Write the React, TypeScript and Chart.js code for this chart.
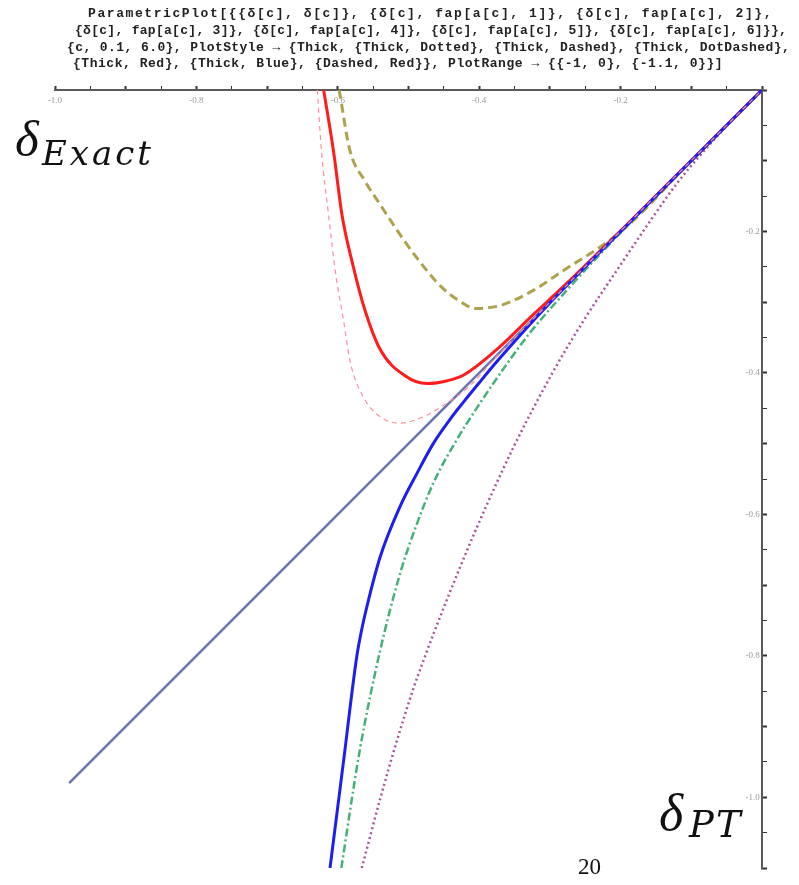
import React, { useEffect, useRef } from "react";
import { Chart, registerables } from "chart.js";
Chart.register(...registerables);

// ---- data (δ_PT on x, δ_Exact / fap on y) ----
const exactX = [-0.98, 0];
const exactY = [-0.98, 0];

const fap1X = [-0.566, -0.54, -0.517, -0.494, -0.479, -0.451, -0.418, -0.389, -0.352, -0.297, -0.253, -0.206, -0.158, -0.121, -0.088, -0.05, 0];
const fap1Y = [-1.1, -1.002, -0.922, -0.849, -0.807, -0.734, -0.653, -0.586, -0.506, -0.401, -0.327, -0.256, -0.185, -0.133, -0.093, -0.051, 0];

const fap2X = [-0.598, -0.583, -0.562, -0.54, -0.515, -0.49, -0.455, -0.43, -0.404, -0.371, -0.35, -0.323, -0.276, -0.229, -0.191, -0.1, 0];
const fap2Y = [0, -0.085, -0.128, -0.162, -0.2, -0.235, -0.277, -0.297, -0.309, -0.305, -0.297, -0.283, -0.252, -0.222, -0.193, -0.1, 0];

const fap3X = [-0.595, -0.569, -0.54, -0.512, -0.488, -0.465, -0.432, -0.399, -0.362, -0.328, -0.276, -0.23, -0.1, 0];
const fap3Y = [-1.1, -0.934, -0.792, -0.684, -0.613, -0.556, -0.495, -0.443, -0.389, -0.343, -0.283, -0.233, -0.1, 0];

const fap4X = [-0.62, -0.606, -0.594, -0.578, -0.562, -0.54, -0.505, -0.474, -0.445, -0.422, -0.373, -0.324, -0.28, -0.2, 0];
const fap4Y = [0, -0.087, -0.177, -0.25, -0.31, -0.367, -0.404, -0.415, -0.411, -0.403, -0.365, -0.318, -0.277, -0.199, 0];

const fap5X = [-0.611, -0.592, -0.573, -0.566, -0.559, -0.54, -0.512, -0.488, -0.465, -0.44, -0.422, -0.4, -0.375, -0.338, -0.3, -0.2, 0];
const fap5Y = [-1.1, -0.95, -0.8, -0.762, -0.731, -0.66, -0.589, -0.542, -0.5, -0.464, -0.441, -0.414, -0.384, -0.342, -0.301, -0.2, 0];

const fap6X = [-0.629, -0.623, -0.613, -0.603, -0.592, -0.583, -0.564, -0.54, -0.512, -0.479, -0.446, -0.413, -0.38, -0.3, 0];
const fap6Y = [0, -0.087, -0.177, -0.26, -0.325, -0.382, -0.434, -0.462, -0.471, -0.462, -0.443, -0.418, -0.382, -0.3, 0];

const xTickLabels = ["-1.0", "-0.8", "-0.6", "-0.4", "-0.2"];
const yTickLabels = ["-0.2", "-0.4", "-0.6", "-0.8", "-1.0"];

const titleLines = [
  "ParametricPlot[{{δ[c], δ[c]}, {δ[c], fap[a[c], 1]}, {δ[c], fap[a[c], 2]},",
  "{δ[c], fap[a[c], 3]}, {δ[c], fap[a[c], 4]}, {δ[c], fap[a[c], 5]}, {δ[c], fap[a[c], 6]}},",
  "{c, 0.1, 6.0}, PlotStyle → {Thick, {Thick, Dotted}, {Thick, Dashed}, {Thick, DotDashed},",
  "{Thick, Red}, {Thick, Blue}, {Dashed, Red}}, PlotRange → {{-1, 0}, {-1.1, 0}}]",
];
const titleLeft = [88, 75, 67, 73];
const titleWidth = [685, 712, 723, 650];
const titleTop = [6, 23, 40, 56];

const pts = (xs: number[], ys: number[]) => xs.map((x, i) => ({ x, y: ys[i] }));

function labelFor(v: number, labels: string[], suffix: string) {
  const r = Math.round(v * 100);
  if (r % 20 !== 0 || r === 0) return "";
  const s = (r / 100).toFixed(1);
  return labels.includes(s) ? s + suffix : "";
}

const tickW = (ctx: any) => (Math.round(ctx.tick.value * 100) % 10 === 0 ? 2 : 1);

export default function App() {
  const ref = useRef<HTMLCanvasElement>(null);
  useEffect(() => {
    const base = { showLine: true, pointRadius: 0, cubicInterpolationMode: "monotone" as const, fill: false };
    const chart = new Chart(ref.current!, {
      type: "scatter",
      data: {
        datasets: [
          { ...base, label: "δ", data: pts(exactX, exactY), borderColor: "#6b74b0", borderWidth: 2.5, order: 7 },
          { ...base, label: "fap1", data: pts(fap1X, fap1Y), borderColor: "#a3589a", borderWidth: 2.5, borderDash: [2, 3], order: 6 },
          { ...base, label: "fap2", data: pts(fap2X, fap2Y), borderColor: "#ada34c", borderWidth: 3, borderDash: [9, 5], order: 5 },
          { ...base, label: "fap3", data: pts(fap3X, fap3Y), borderColor: "#45b078", borderWidth: 2.5, borderDash: [8, 3, 2, 3], order: 4 },
          { ...base, label: "fap4", data: pts(fap4X, fap4Y), borderColor: "#ff1c1c", borderWidth: 3, order: 3 },
          { ...base, label: "fap5", data: pts(fap5X, fap5Y), borderColor: "#1e1ef0", borderWidth: 3, order: 2 },
          { ...base, label: "fap6", data: pts(fap6X, fap6Y), borderColor: "#ff8f9c", borderWidth: 1.2, borderDash: [5, 4], order: 1 },
        ],
      },
      options: {
        animation: false,
        responsive: false,
        layout: { padding: { left: 55, right: 37, top: 90, bottom: 17 } },
        plugins: { legend: { display: false }, tooltip: { enabled: false }, title: { display: false } },
        scales: {
          x: {
            type: "linear",
            min: -1,
            max: 0,
            position: { y: 0 } as any,
            border: { display: true, color: "#5a5a5a", width: 2 },
            grid: {
              drawOnChartArea: false,
              drawTicks: true,
              tickLength: -5,
              tickColor: "#333",
              tickWidth: tickW,
            },
            ticks: {
              stepSize: 0.05,
              autoSkip: false,
              maxRotation: 0,
              padding: 10,
              color: "#999",
              font: { family: "Liberation Serif", size: 9 },
              callback: (v: any) => labelFor(Number(v), xTickLabels, ""),
            },
          },
          y: {
            type: "linear",
            min: -1.1,
            max: 0,
            position: { x: 0 } as any,
            border: { display: true, color: "#5a5a5a", width: 2 },
            grid: {
              drawOnChartArea: false,
              drawTicks: true,
              tickLength: -6,
              tickColor: "#333",
              tickWidth: tickW,
            },
            ticks: {
              stepSize: 0.05,
              autoSkip: false,
              padding: 0,
              color: "#999",
              font: { family: "Liberation Serif", size: 9 },
              callback: (v: any) => labelFor(Number(v), yTickLabels, " "),
            },
          },
        },
      },
    });
    return () => chart.destroy();
  }, []);

  const fs = 13;
  return (
    <div style={{ position: "absolute", left: 0, top: 0, width: 799, height: 885, background: "#fff", overflow: "hidden" }}>
      <canvas ref={ref} width={799} height={885} style={{ position: "absolute", left: 0, top: 0, width: 799, height: 885 }} />
      {titleLines.map((t, i) => (
        <div
          key={i}
          style={{
            position: "absolute",
            left: titleLeft[i],
            top: titleTop[i],
            whiteSpace: "pre",
            fontFamily: "'Liberation Mono', monospace",
            fontWeight: "bold",
            fontSize: fs,
            lineHeight: "15px",
            color: "#222",
            letterSpacing: (titleWidth[i] - t.length * 0.6 * fs) / t.length + "px",
          }}
        >
          {t}
        </div>
      ))}
      <div style={{ position: "absolute", left: 15, top: 114, fontFamily: "'Liberation Serif', serif", fontStyle: "italic", fontSize: 51, lineHeight: 1, color: "#111" }}>δ</div>
      <div style={{ position: "absolute", left: 42, top: 136, fontFamily: "'DejaVu Serif', serif", fontStyle: "italic", fontSize: 34, lineHeight: 1, letterSpacing: "3px", color: "#111" }}>Exact</div>
      <div style={{ position: "absolute", left: 659, top: 787, fontFamily: "'Liberation Serif', serif", fontStyle: "italic", fontSize: 52, lineHeight: 1, color: "#111" }}>δ</div>
      <div style={{ position: "absolute", left: 689, top: 806, fontFamily: "'DejaVu Serif', serif", fontStyle: "italic", fontSize: 37, lineHeight: 1, letterSpacing: "2px", color: "#111" }}>PT</div>
      <div style={{ position: "absolute", left: 578, top: 855, fontFamily: "'Liberation Serif', serif", fontSize: 23, lineHeight: 1, color: "#111" }}>20</div>
    </div>
  );
}
